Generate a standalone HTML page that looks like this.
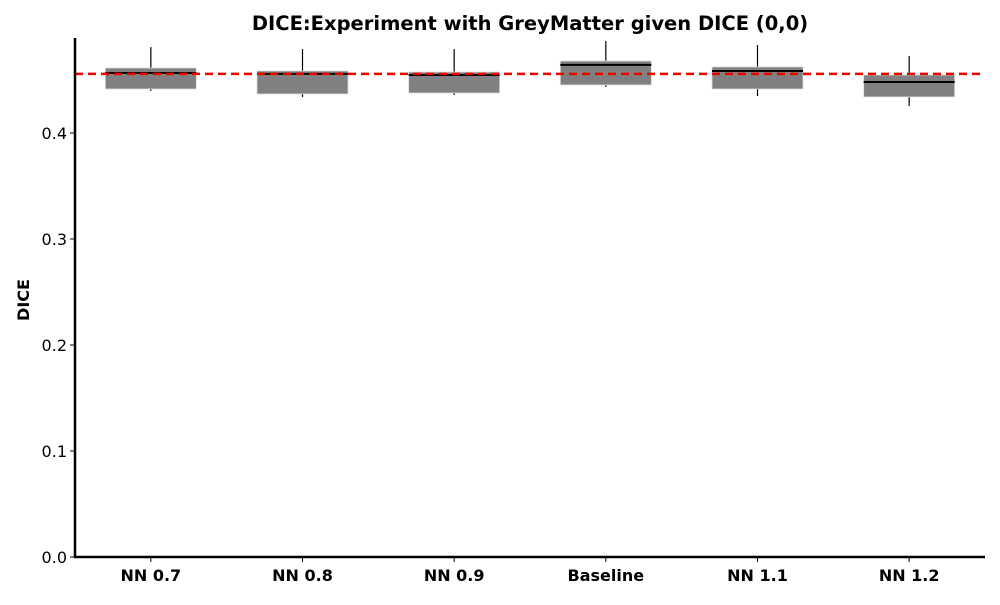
<!DOCTYPE html>
<html><head><meta charset="utf-8"><style>
body{margin:0;background:#fff;}
svg text{font-family:"DejaVu Sans","Liberation Sans",sans-serif;}
</style></head><body>
<svg id="chart" width="1000" height="600">
<text x="530" y="30" text-anchor="middle" font-size="19.5" font-weight="bold">DICE:Experiment with GreyMatter given DICE (0,0)</text>
<text x="29" y="300" text-anchor="middle" font-size="16" font-weight="bold" transform="rotate(-90 29 300)">DICE</text>
<g id="plot"></g>
</svg>
<script>
const categories=["NN 0.7","NN 0.8","NN 0.9","Baseline","NN 1.1","NN 1.2"];
const whiskerHigh=[0.481,0.4792,0.4792,0.4868,0.4830,0.4726];
const q3=[0.4613,0.4585,0.4575,0.4679,0.4623,0.4547];
const medians=[0.4566,0.4557,0.4547,0.4642,0.4585,0.4481];
const q1=[0.4415,0.4368,0.4377,0.4453,0.4415,0.4340];
const whiskerLow=[0.4396,0.4340,0.4358,0.4434,0.4349,0.4255];
const referenceValue=0.4557;
const yTicks=[0,0.1,0.2,0.3,0.4];
const yTickLabels=["0.0","0.1","0.2","0.3","0.4"];

const L=75,R=985,T=38,B=557,yMax=0.4896;
const ns="http://www.w3.org/2000/svg";
const g=document.getElementById('plot');
const y=v=>B-(v/yMax)*(B-T);
const band=(R-L)/categories.length;
const x=i=>L+band*(i+0.5);
function mk(tag,attrs){const e=document.createElementNS(ns,tag);for(const k in attrs)e.setAttribute(k,attrs[k]);g.appendChild(e);return e;}
categories.forEach((c,i)=>{
  const cx=x(i),w=91;
  let e=mk('line',{x1:cx,x2:cx,y1:y(whiskerHigh[i]),y2:y(q3[i]),stroke:'#000','stroke-width':1.2});
  
  
  e=mk('line',{x1:cx,x2:cx,y1:y(q1[i]),y2:y(whiskerLow[i]),stroke:'#000','stroke-width':1.2});
  
  
  e=mk('rect',{x:cx-w/2,y:y(q3[i]),width:w,height:y(q1[i])-y(q3[i]),fill:'#808080',stroke:'#ddd','stroke-width':0.8});
  
  
  e=mk('line',{x1:cx-w/2,x2:cx+w/2,y1:y(medians[i]),y2:y(medians[i]),stroke:'#000','stroke-width':2});
  
  
  e=mk('line',{x1:cx,x2:cx,y1:B,y2:B+5,stroke:'#000','stroke-width':1});
  
  
  e=mk('text',{x:cx,y:B+24,'text-anchor':'middle','font-size':16,'font-weight':'bold'});
  e.textContent=c;
  
  
});
let r=mk('line',{x1:L,x2:R,y1:y(referenceValue),y2:y(referenceValue),stroke:'#e00','stroke-width':2.5,'stroke-dasharray':'8,5'});


yTicks.forEach((v,i)=>{
  let e=mk('line',{x1:L-5,x2:L,y1:y(v),y2:y(v),stroke:'#000','stroke-width':1});
  
  
  e=mk('text',{x:L-8,y:y(v)+6,'text-anchor':'end','font-size':16});
  e.textContent=yTickLabels[i];
  
  
});
let a=mk('line',{x1:L,x2:L,y1:T,y2:B+1,stroke:'#000','stroke-width':2.5});


a=mk('line',{x1:L-1,x2:R,y1:B,y2:B,stroke:'#000','stroke-width':2.5});


</script>
</body></html>
